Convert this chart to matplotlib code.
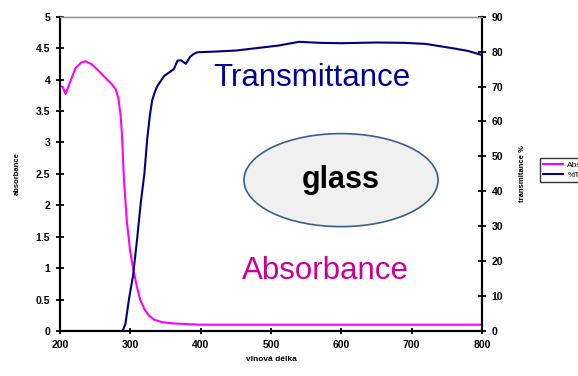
import matplotlib
matplotlib.use("Agg")
import matplotlib.pyplot as plt
from matplotlib.patches import Ellipse

# Absorbance (lewa osa)
wl_abs = [200, 204, 208, 214, 222, 230, 236, 244, 252, 260, 267, 274, 279, 283,
          286, 288, 291, 295, 300, 304, 309, 314, 320, 326, 334, 345, 362, 380,
          400, 450, 500, 600, 700, 800]
absorbance = [3.9, 3.88, 3.77, 3.95, 4.18, 4.27, 4.29, 4.25, 4.17, 4.08, 4.0, 3.92,
              3.85, 3.7, 3.45, 3.15, 2.4, 1.75, 1.25, 1.0, 0.72, 0.5, 0.35, 0.25,
              0.18, 0.14, 0.12, 0.11, 0.1, 0.1, 0.1, 0.1, 0.1, 0.1]

# Transmitance % (prava osa)
wl_t = [200, 289, 293, 298, 304, 310, 315, 320, 324, 328, 331, 335, 338, 343, 348,
        355, 362, 367, 372, 379, 385, 390, 395, 420, 450, 480, 510, 540, 570, 600,
        650, 690, 720, 757, 780, 800]
transmit = [0, 0, 2, 9, 16, 27, 37, 45, 55, 62, 66, 68.5, 70, 71.5, 73, 74, 75, 77.4,
            77.5, 76.5, 78.5, 79.3, 79.8, 80, 80.3, 81, 81.7, 82.8, 82.5, 82.4, 82.6,
            82.5, 82.2, 81, 80.2, 79]

x_ticks = [200, 300, 400, 500, 600, 700, 800]
left_ticks = [0, 0.5, 1, 1.5, 2, 2.5, 3, 3.5, 4, 4.5, 5]
left_labels = ['0', '0.5', '1', '1.5', '2', '2.5', '3', '3.5', '4', '4.5', '5']
right_ticks = [0, 10, 20, 30, 40, 50, 60, 70, 80, 90]

plt.rcParams['font.family'] = ['Liberation Sans', 'DejaVu Sans']

fig = plt.figure(figsize=(5.78, 3.76), dpi=100)
ax = fig.add_axes([0.1038, 0.1197, 0.730, 0.836])
ax2 = ax.twinx()

l1, = ax.plot(wl_abs, absorbance, color='#ff00ff', lw=1.5, label='Absorbance')
l2, = ax2.plot(wl_t, transmit, color='#000080', lw=1.5, label='%T')

ax.set_xlim(200, 800)
ax.set_ylim(0, 5)
ax2.set_ylim(0, 90)
ax.set_xticks(x_ticks)
ax.set_xticklabels([str(v) for v in x_ticks])
ax.set_yticks(left_ticks)
ax.set_yticklabels(left_labels)
ax2.set_yticks(right_ticks)
ax2.set_yticklabels([str(v) for v in right_ticks])

for a in (ax, ax2):
    for s in ('left', 'right', 'bottom'):
        a.spines[s].set_linewidth(1.5)
        a.spines[s].set_color('black')
    a.spines['top'].set_color('#999999')
    a.spines['top'].set_linewidth(1)
    a.tick_params(direction='inout', length=6, width=1.3, labelsize=7.5, pad=4)
    for lab in a.get_xticklabels() + a.get_yticklabels():
        lab.set_fontweight('bold')
ax.tick_params(axis='x', length=5)

ax.set_xlabel('vlnová délka', fontsize=6, fontweight='bold', labelpad=4)
ax.set_ylabel('absorbance', fontsize=5.5, fontweight='bold', labelpad=11)
ax2.set_ylabel('transmitance %', fontsize=5.5, fontweight='bold', labelpad=11)

ax.text(0.597, 0.805, 'Transmittance', transform=ax.transAxes, ha='center',
        va='center', fontsize=22.5, color='#000099')
ax.text(0.628, 0.19, 'Absorbance', transform=ax.transAxes, ha='center',
        va='center', fontsize=22.5, color='#cc0099')
ell = Ellipse((0.666, 0.48), 0.46, 0.296, transform=ax.transAxes,
              facecolor='#f0f0f0', edgecolor='#3a5f8a', lw=1.2, zorder=5)
ax.add_patch(ell)
ax.text(0.666, 0.48, 'glass', transform=ax.transAxes, ha='center', va='center',
        fontsize=22, fontweight='bold', color='black', zorder=6)

# legenda jest czesciowo ucieta przez krawedz, jak w oryginale
leg = fig.legend(handles=[l1, l2], loc='upper left', bbox_to_anchor=(0.927, 0.592),
                 fontsize=6, frameon=True, fancybox=False, edgecolor='black',
                 handlelength=2.4, handletextpad=0.5, borderpad=0.4,
                 labelspacing=0.3)
leg.get_frame().set_linewidth(1)

fig.savefig('out.png', dpi=100)
